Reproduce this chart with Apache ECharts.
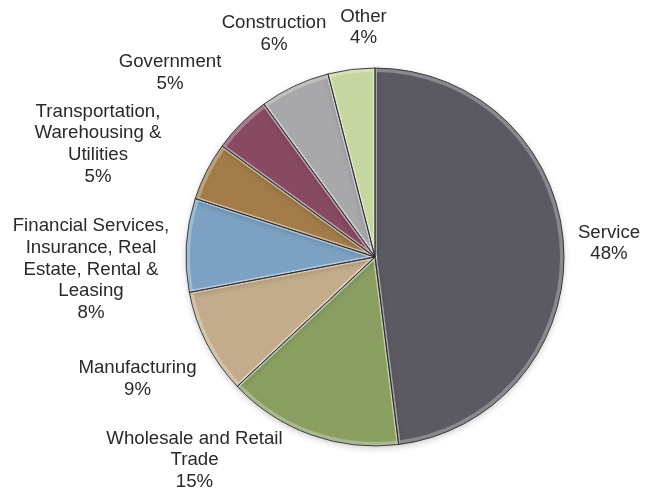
<!DOCTYPE html>
<html>
<head>
<meta charset="utf-8">
<script src="https://cdn.jsdelivr.net/npm/echarts@6/dist/echarts.min.js"></script>
<style>
  html, body { margin: 0; padding: 0; background: #ffffff; }
  #chart { width: 657px; height: 493px; }
</style>
</head>
<body>
<div id="chart"></div>
<script>
// Employment share by industry (percent)
const industries = [
  'Service',
  'Wholesale and Retail\nTrade',
  'Manufacturing',
  'Financial Services,\nInsurance, Real\nEstate, Rental &\nLeasing',
  'Transportation,\nWarehousing &\nUtilities',
  'Government',
  'Construction',
  'Other'
];
const shares = [48, 15, 9, 8, 5, 5, 6, 4];
const sliceColors = ['#5b5a62', '#8a9e62', '#c3ac8b', '#7ca1c2', '#a27b49', '#874a62', '#a8a8aa', '#c6d6a1'];

// Pie geometry
const CX = 375, CY = 257, R = 189;

// Where each label box is centred, relative to the pie centre
const labelOffsets = [
  [234, -13.5],
  [-180.5, 203],
  [-237.5, 122],
  [-284, 12.5],
  [-277, -113],
  [-205, -184],
  [-101, -223],
  [-11.5, -229.5]
];

const seriesData = industries.map((name, i) => ({
  name: name,
  value: shares[i],
  itemStyle: { color: sliceColors[i] }
}));

const chart = echarts.init(document.getElementById('chart'), null, { renderer: 'canvas' });

const common = {
  type: 'pie',
  center: [CX, CY],
  startAngle: 90,
  clockwise: true,
  avoidLabelOverlap: false,
  animation: false
};

chart.setOption({
  backgroundColor: '#ffffff',
  series: [
    Object.assign({}, common, {
      name: 'fill',
      radius: [0, R],
      data: seriesData,
      itemStyle: {
        borderWidth: 0,
        shadowBlur: 6,
        shadowColor: 'rgba(0,0,0,0.22)',
        shadowOffsetY: 2
      },
      label: {
        show: true,
        position: 'outside',
        formatter: p => p.name + '\n' + p.value + '%',
        fontFamily: '"Liberation Sans", Arial, sans-serif',
        fontSize: 18.67,
        lineHeight: 21.6,
        color: '#2a2a2a',
        align: 'center'
      },
      labelLine: { show: false },
      labelLayout: function (params) {
        const off = labelOffsets[params.dataIndex];
        return {
          x: CX + off[0],
          y: CY + off[1],
          align: 'center',
          verticalAlign: 'middle',
          hideOverlap: false,
          moveOverlap: null
        };
      },
      emphasis: { disabled: true }
    }),
    // soft highlight along every slice edge
    Object.assign({}, common, {
      name: 'bevel',
      radius: [0, R - 2],
      silent: true,
      data: seriesData.map(d => ({ name: d.name, value: d.value })),
      itemStyle: {
        color: 'rgba(0,0,0,0)',
        borderColor: 'rgba(255,255,255,0.28)',
        borderWidth: 4
      },
      label: { show: false },
      labelLine: { show: false },
      emphasis: { disabled: true }
    }),
    // dark outline of the slices
    Object.assign({}, common, {
      name: 'outline',
      radius: [0, R],
      silent: true,
      data: seriesData.map(d => ({ name: d.name, value: d.value })),
      itemStyle: {
        color: 'rgba(0,0,0,0)',
        borderColor: 'rgba(40,40,40,0.85)',
        borderWidth: 1
      },
      label: { show: false },
      labelLine: { show: false },
      emphasis: { disabled: true }
    })
  ]
});
</script>
</body>
</html>
